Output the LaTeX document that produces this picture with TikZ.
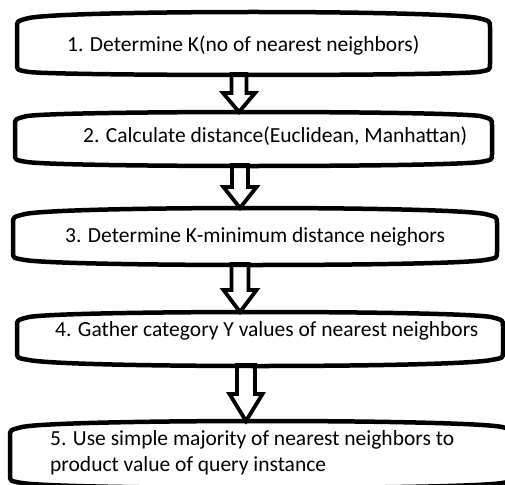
\documentclass[tikz,border=0pt]{standalone}
\usepackage{fontspec}
\setmainfont{Carlito}
\usetikzlibrary{calc}
\tikzset{
  boxline/.style={line width=4.5pt, line join=round, draw=black},
  arrline/.style={line width=3.8pt, line join=miter, draw=black, fill=white},
  steptext/.style={anchor=base west, inner sep=0pt, font=\fontsize{21.5}{26.5}\selectfont, text=black}
}
% L, R, Tc, Tm, Bc, Bm (pixel y measured downward)
\newcommand{\kbox}[6]{%
  \pgfmathsetmacro{\tcp}{(8*#4-2*(#3-3))/6}%
  \pgfmathsetmacro{\bcp}{(8*#6-2*(#5+2))/6}%
  \draw[boxline] ({#1},{-(#3+6)}) .. controls ({#1},{-#3}) .. ({#1+12},{-(#3-3)})
    .. controls ({#1+52},{-\tcp}) and ({#2-52},{-\tcp}) .. ({#2-12},{-(#3-3)})
    .. controls ({#2},{-#3}) .. ({#2},{-(#3+6)})
    -- ({#2},{-(#5-6)}) .. controls ({#2},{-#5}) .. ({#2-12},{-(#5+2)})
    .. controls ({#2-52},{-\bcp}) and ({#1+52},{-\bcp}) .. ({#1+12},{-(#5+2)})
    .. controls ({#1},{-#5}) .. ({#1},{-(#5-6)}) -- cycle;}
% start, end, head length, half shaft, half head
\newcommand{\barrow}[5]{%
  \draw[arrline] ($(#1)+(-#4,0)$) -- ($(#2)+(-#4,#3)$) -- ($(#2)+(-#5,#3)$) -- (#2)
    -- ($(#2)+(#5,#3)$) -- ($(#2)+(#4,#3)$) -- ($(#1)+(#4,0)$) -- cycle;}
\begin{document}
\begin{tikzpicture}[x=1pt,y=1pt]
\useasboundingbox (0,0) rectangle (505,-484);
\clip (0,0) rectangle (505,-484);
\fill[white] (0,0) rectangle (505,-484);
% arrow end points
\coordinate (b1s) at (239,-74);
\coordinate (b2n) at (239,-112);
\coordinate (b2s) at (240,-165);
\coordinate (b3n) at (240,-208);
\coordinate (b3s) at (240,-264);
\coordinate (b4n) at (240,-312);
\coordinate (b4s) at (246,-365);
\coordinate (b5n) at (246,-421);
% arrows
\barrow{b1s}{b2n}{19}{7.5}{16}
\barrow{b2s}{b3n}{21}{8}{16.5}
\barrow{b3s}{b4n}{22}{8.5}{16.5}
\barrow{b4s}{b5n}{27}{9}{16.5}
% boxes
\kbox{17}{490}{21}{12}{70}{75}
\kbox{15}{492}{119}{112}{160}{166}
\kbox{13}{497}{217}{208}{258}{265}
\kbox{17}{503}{320}{312}{358}{366}
\kbox{10}{514}{430}{421}{481}{488}
% texts
\node[steptext] (t1) at (67,-52) {1. Determine K(no of nearest neighbors)};
\node[steptext] (t2) at (83,-142) {2. Calculate distance(Euclidean, Manhattan)};
\node[steptext] (t3) at (65,-242) {3. Determine K-minimum distance neighors};
\node[steptext] (t4) at (55,-336) {4. Gather category Y values of nearest neighbors};
\node[steptext] (t5) at (50,-445) {5. Use simple majority of nearest neighbors to};
\node[steptext] (t5b) at (50,-471) {product value of query instance};
\end{tikzpicture}
\end{document}
